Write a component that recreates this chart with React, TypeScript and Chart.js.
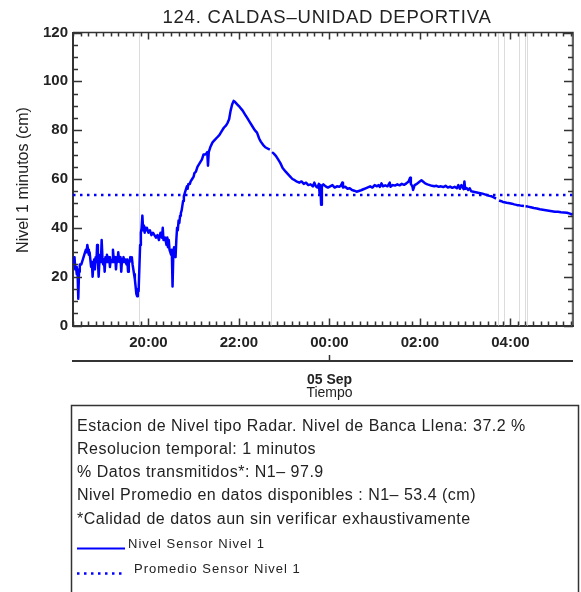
import React, { useEffect, useRef } from "react";
import { Chart, registerables } from "chart.js";

Chart.register(...registerables);

// ---------- texts ----------
const chartTitle = "124. CALDAS\u2013UNIDAD DEPORTIVA";
const yAxisTitle = "Nivel 1 minutos (cm)";
const xAxisDate = "05 Sep";
const xAxisTitle = "Tiempo";
const infoLines = [
  "Estacion de Nivel tipo Radar. Nivel de Banca Llena: 37.2 %",
  "Resolucion temporal: 1 minutos",
  "% Datos transmitidos*: N1\u2013 97.9",
  "Nivel Promedio en datos disponibles : N1\u2013 53.4 (cm)",
  "*Calidad de datos aun sin verificar exhaustivamente",
];
const legendLabels = ["Nivel Sensor Nivel 1", "Promedio Sensor Nivel 1"];

// ---------- axes ----------
const xTickLabels = ["20:00", "22:00", "00:00", "02:00", "04:00"];
const yTickValues = [0, 20, 40, 60, 80, 100, 120];
const xRange = ["18:20", "05:23"];
const yRange = [0, 120];
const xMinorStepMin = 10;
const yMinorStep = 5;

// ---------- data ----------
const meanLevel = 53.4;
const gapTimes = ["19:48", "22:43", "03:43", "03:51", "04:11", "04:19", "04:22", "05:21"];

const times = [
  // 18:20 - 19:47
  "18:20","18:21","18:22","18:23","18:24","18:25","18:26","18:27","18:28","18:29",
  "18:31","18:33","18:35","18:37","18:38","18:39","18:40","18:41","18:42","18:43",
  "18:44","18:45","18:46","18:47","18:48","18:49","18:50","18:51","18:52","18:53",
  "18:54","18:55","18:56","18:57","18:58","18:59","19:00","19:01","19:02","19:03",
  "19:04","19:05","19:06","19:07","19:08","19:09","19:10","19:12","19:13","19:14",
  "19:15","19:16","19:17","19:18","19:19","19:20","19:21","19:22","19:23","19:24",
  "19:25","19:26","19:27","19:28","19:29","19:30","19:31","19:32","19:33","19:34",
  "19:35","19:36","19:37","19:38","19:39","19:40","19:41","19:42","19:43","19:44",
  "19:45","19:46","19:47",
  // 19:49 - 20:58
  "19:49","19:50","19:51","19:52","19:53","19:54","19:55","19:56","19:57","19:58",
  "20:00","20:02","20:04","20:06","20:08","20:10","20:12","20:14","20:16","20:18",
  "20:19","20:20","20:22","20:24",
  "20:25","20:26","20:27","20:28","20:29","20:30","20:31","20:32","20:33","20:34",
  "20:35","20:36","20:37","20:38","20:39","20:40","20:41","20:42","20:43","20:44",
  "20:45","20:46","20:47","20:49","20:51","20:52","20:53","20:55","20:56","20:58",
  // 21:00 - 23:58
  "21:00","21:01","21:03","21:05","21:07","21:09","21:11","21:13","21:15","21:17",
  "21:18","21:19","21:20","21:22","21:25","21:28","21:31","21:34","21:37","21:40",
  "21:43","21:45","21:47","21:49","21:51","21:53","21:55","21:58","22:01","22:05",
  "22:08","22:11","22:14","22:18","22:21","22:24","22:27","22:29","22:32","22:35",
  "22:38","22:41","22:43","22:44","22:46","22:49","22:52","22:55","22:58","23:02",
  "23:05","23:08","23:11","23:14","23:17","23:20","23:23","23:26","23:29","23:32",
  "23:35","23:38","23:40","23:42","23:44","23:46","23:47","23:48","23:49","23:50",
  "23:52","23:55","23:58",
  // 00:01 - 03:43
  "00:01","00:04","00:07","00:10","00:13","00:15","00:17","00:18","00:21","00:24",
  "00:27","00:30","00:33","00:36","00:39","00:42","00:45","00:48","00:51","00:54",
  "00:57","01:00","01:03","01:05","01:07","01:09","01:11","01:14","01:17","01:20",
  "01:21","01:24","01:27","01:30","01:33","01:36","01:39","01:42","01:45","01:47",
  "01:48","01:50","01:51","01:53","01:56","01:59","02:02","02:04","02:07","02:10",
  "02:13","02:16","02:19","02:22","02:25","02:28","02:31","02:34","02:37","02:40",
  "02:43","02:46","02:49","02:51","02:53","02:55","02:58","02:59","03:00","03:02",
  "03:04","03:06","03:08","03:11","03:14","03:17","03:20","03:23","03:26","03:29",
  "03:32","03:35","03:38","03:41","03:43",
  // 03:45 - 05:23
  "03:45","03:48","03:50","03:52","03:55","03:59","04:02","04:05","04:08","04:10",
  "04:12","04:15","04:18","04:19","04:20","04:23","04:27","04:31","04:35","04:39",
  "04:43","04:47","04:51","04:55","04:59","05:03","05:07","05:11","05:15","05:19",
  "05:21","05:23",
];

const levels: (number | null)[] = [
  // 18:20 - 19:47
  27,25,28,23,24,21,23,11,22,25,
  25,27,29,31,30,33,31,29,30,27,
  24,26,20,25,27,23,28,26,33,27,
  20,26,29,26,35,28,25,27,22,28,
  26,29,27,26,28,24,27,26,31,27,
  26,28,23,27,26,30,27,26,28,22,
  27,26,28,26,27,26,25,27,22,26,
  26,28,27,28,25,23,21,19,16,13,
  12,15,14,
  // 19:49 - 20:58
  33,38,40,45,39,41,38,40,39,40,
  38,39,37,38,37,36,37,35,38,36,
  40,35,36,33,
  36,32,35,31,30,29,31,16,29,32,
  30,28,35,40,39,43,42,45,46,47,
  49,51,53,55,57,56,58,58,59,60,
  // 21:00 - 23:58
  61,62.4,63,65,66,67,68,70,70,70.5,
  71,65.5,71,73,75,76,77,78,79.5,81,
  82,83,84.5,88,90.5,92,91.5,90.5,89.5,88,
  86.5,85,83.5,81.5,80,79,76.5,75.3,74,73,
  72.5,72,null,71,70.5,69.5,68,66.5,64.5,63,
  62,61,60,59.5,58.9,58.5,59,58,58.5,57.5,
  57.8,57,58.5,57,56.5,58,54,57.5,49.5,57,
  57.8,57,56.5,
  // 00:01 - 03:43
  57,57.5,56.5,57,56.8,57.2,58.5,56.5,56.8,56,
  56.2,55.5,55.2,54.8,55.1,55.4,55.8,56.2,56.6,57,
  56.5,57.5,57,57.5,56.8,58.2,57,57.4,57,58.5,
  56.8,57.5,57.3,57.8,57.4,58,57.6,58.2,59,60.5,
  58,57,55.5,57.5,58,58.8,59.5,59,58.2,57.8,
  57.5,57.2,57,57.2,56.8,57,56.7,57.2,56.5,56.9,
  56.4,56.8,56.2,57.5,56,57.5,55.8,59,56,56.3,
  55.5,56.2,55,54.8,54.6,54.4,54.2,54,53.7,53.4,
  53.1,52.9,52.5,52,null,
  // 03:45 - 05:23
  51.2,50.9,50.6,50.5,50.3,50.1,49.9,49.6,49.4,49.2,
  49.2,49,48.9,null,48.8,48.7,48.4,48.1,47.9,47.6,
  47.4,47.2,47,46.8,46.6,46.6,46.4,46.3,46.2,45.8,
  45.5,45.8,
];

// ---------- helpers ----------
const FONT = '"Liberation Sans", Arial, Helvetica, sans-serif';
const BLUE = "#0000ff";
const INK = "#222222";

// minutes relative to 00:00 of 05 Sep (evening hours belong to 04 Sep)
function toMin(t: string): number {
  const [h, m] = t.split(":").map(Number);
  const v = h * 60 + m;
  return h >= 12 ? v - 1440 : v;
}

const xTickValues = xTickLabels.map(toMin);

const decorPlugin = {
  id: "decor",
  beforeDatasetsDraw(chart: any) {
    const { ctx, chartArea: a, scales } = chart;
    const x = scales.x;
    ctx.save();
    ctx.strokeStyle = "#dcdcdc";
    ctx.lineWidth = 1;
    gapTimes.forEach((t) => {
      const px = Math.round(x.getPixelForValue(toMin(t))) + 0.5;
      ctx.beginPath();
      ctx.moveTo(px, a.top);
      ctx.lineTo(px, a.bottom);
      ctx.stroke();
    });
    ctx.restore();
  },
  afterDraw(chart: any) {
    const { ctx, chartArea: a, scales } = chart;
    const x = scales.x;
    const y = scales.y;
    ctx.save();

    // frame: top and right
    ctx.strokeStyle = "#333";
    ctx.lineWidth = 1.5;
    ctx.beginPath();
    ctx.moveTo(a.left, a.top);
    ctx.lineTo(a.right, a.top);
    ctx.lineTo(a.right, a.bottom);
    ctx.stroke();

    // inward ticks
    ctx.lineWidth = 1.5;
    ctx.strokeStyle = "#333";
    for (let m = Math.ceil(x.min / xMinorStepMin) * xMinorStepMin; m <= x.max; m += xMinorStepMin) {
      const len = xTickValues.includes(m) ? 7 : 4;
      const px = Math.round(x.getPixelForValue(m)) + 0.5;
      ctx.beginPath();
      ctx.moveTo(px, a.bottom);
      ctx.lineTo(px, a.bottom - len);
      ctx.moveTo(px, a.top);
      ctx.lineTo(px, a.top + len);
      ctx.stroke();
    }
    for (let v = yRange[0]; v <= yRange[1]; v += yMinorStep) {
      const len = yTickValues.includes(v) ? 9 : 5;
      const py = Math.round(y.getPixelForValue(v)) + 0.5;
      ctx.beginPath();
      ctx.moveTo(a.left, py);
      ctx.lineTo(a.left + len, py);
      ctx.moveTo(a.right, py);
      ctx.lineTo(a.right - len, py);
      ctx.stroke();
    }

    // date axis below
    const dateY = 361;
    ctx.strokeStyle = "#333";
    ctx.lineWidth = 2;
    ctx.beginPath();
    ctx.moveTo(a.left - 1, dateY);
    ctx.lineTo(a.right, dateY);
    ctx.stroke();
    const p0 = Math.round(x.getPixelForValue(toMin("00:00"))) + 0.5;
    ctx.lineWidth = 1.5;
    ctx.beginPath();
    ctx.moveTo(p0, dateY);
    ctx.lineTo(p0, dateY - 6);
    ctx.stroke();

    ctx.fillStyle = INK;
    ctx.textAlign = "center";
    ctx.textBaseline = "alphabetic";
    ctx.font = `bold 14px ${FONT}`;
    ctx.fillText(xAxisDate, p0, 384);
    ctx.font = `14px ${FONT}`;
    ctx.fillText(xAxisTitle, p0, 397);

    // title
    ctx.font = `18.5px ${FONT}`;
    (ctx as any).letterSpacing = "0.8px";
    ctx.fillText(chartTitle, 327, 23);
    (ctx as any).letterSpacing = "0px";

    // y-axis title
    ctx.save();
    ctx.translate(28, (a.top + a.bottom) / 2 + 1);
    ctx.rotate(-Math.PI / 2);
    ctx.font = `16px ${FONT}`;
    ctx.textAlign = "center";
    ctx.fillText(yAxisTitle, 0, 0);
    ctx.restore();

    // info box
    ctx.strokeStyle = "#333";
    ctx.lineWidth = 1.5;
    ctx.strokeRect(71.5, 405.5, 507, 220);
    ctx.textAlign = "left";
    ctx.fillStyle = INK;
    ctx.font = `16px ${FONT}`;
    (ctx as any).letterSpacing = "0.5px";
    infoLines.forEach((line, i) => {
      ctx.fillText(line, 77, 430.5 + i * 23.3);
    });

    // legend samples
    ctx.font = `13px ${FONT}`;
    (ctx as any).letterSpacing = "1px";
    ctx.fillText(legendLabels[0], 128, 548);
    ctx.fillText(legendLabels[1], 134, 573);
    (ctx as any).letterSpacing = "0px";
    ctx.strokeStyle = BLUE;
    ctx.lineWidth = 2;
    ctx.beginPath();
    ctx.moveTo(77, 548.5);
    ctx.lineTo(125, 548.5);
    ctx.stroke();
    ctx.setLineDash([2.5, 4.5]);
    ctx.lineWidth = 2.5;
    ctx.beginPath();
    ctx.moveTo(77, 573.5);
    ctx.lineTo(125, 573.5);
    ctx.stroke();
    ctx.setLineDash([]);

    ctx.restore();
  },
};

export default function App() {
  const ref = useRef<HTMLCanvasElement>(null);

  useEffect(() => {
    document.body.style.margin = "0";
    const canvas = ref.current;
    if (!canvas) return;
    const n = Math.min(times.length, levels.length);
    const series = [];
    for (let i = 0; i < n; i++) series.push({ x: toMin(times[i]), y: levels[i] });
    const xMin = toMin(xRange[0]);
    const xMax = toMin(xRange[1]);

    const chart = new Chart(canvas, {
      type: "line",
      data: {
        datasets: [
          {
            label: legendLabels[0],
            data: series as any,
            borderColor: BLUE,
            borderWidth: 2.5,
            borderJoinStyle: "round",
            pointRadius: 0,
            tension: 0,
            spanGaps: false,
          },
          {
            label: legendLabels[1],
            data: [
              { x: xMin, y: meanLevel },
              { x: xMax, y: meanLevel },
            ] as any,
            borderColor: BLUE,
            borderWidth: 2.5,
            borderDash: [2.5, 4.5],
            pointRadius: 0,
          },
        ],
      },
      options: {
        animation: false,
        responsive: false,
        devicePixelRatio: 1,
        layout: { padding: { left: 0, right: 8, top: 32.5, bottom: 0 } },
        plugins: {
          legend: { display: false },
          title: { display: false },
          tooltip: { enabled: false },
        },
        scales: {
          x: {
            type: "linear",
            min: xMin,
            max: xMax,
            afterBuildTicks: (scale: any) => {
              scale.ticks = xTickValues.map((v) => ({ value: v }));
            },
            afterFit: (scale: any) => {
              scale.height = 266.5;
            },
            ticks: {
              autoSkip: false,
              maxRotation: 0,
              padding: 8,
              color: INK,
              font: { family: FONT, size: 15, weight: "bold" },
              callback: (_v: any, i: number) => xTickLabels[i],
            },
            grid: { display: false, drawTicks: false },
            border: { display: true, color: "#333", width: 2 },
          },
          y: {
            type: "linear",
            min: yRange[0],
            max: yRange[1],
            afterBuildTicks: (scale: any) => {
              scale.ticks = yTickValues.map((v) => ({ value: v }));
            },
            afterFit: (scale: any) => {
              scale.width = 73;
            },
            ticks: {
              padding: 5,
              color: INK,
              font: { family: FONT, size: 15, weight: "bold" },
              callback: (v: any) => String(v),
            },
            grid: { display: false, drawTicks: false },
            border: { display: true, color: "#333", width: 2 },
          },
        },
      },
      plugins: [decorPlugin],
    } as any);

    return () => chart.destroy();
  }, []);

  return (
    <div style={{ width: 581, height: 592 }}>
      <canvas ref={ref} width={581} height={592} style={{ display: "block" }} />
    </div>
  );
}
